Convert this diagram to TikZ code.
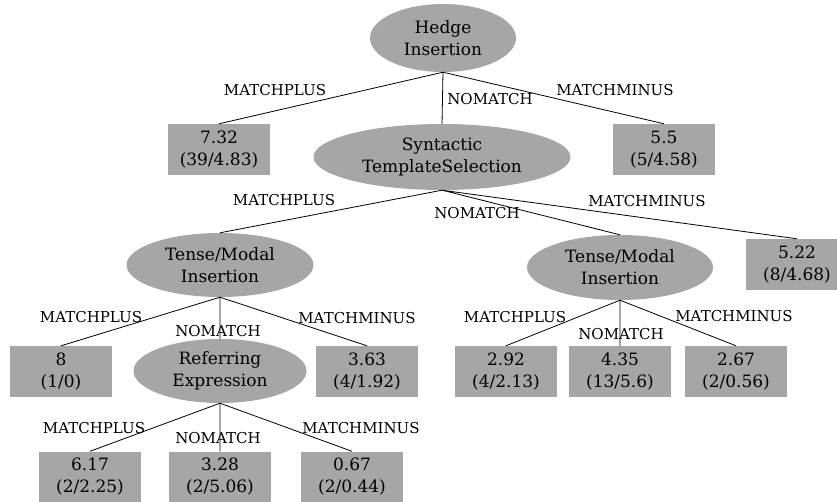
\documentclass[tikz,border=0pt]{standalone}
\usepackage{fontspec}
\setmainfont{DejaVu Serif}
\usetikzlibrary{shapes.geometric}
\definecolor{nodegray}{RGB}{166,166,166}

\begin{document}
\begin{tikzpicture}[x=1pt, y=-1pt,
    test/.style={ellipse, fill=nodegray, inner sep=0pt, align=center,
        font=\fontsize{17}{22}\selectfont},
    leaf/.style={rectangle, fill=nodegray, minimum width=102pt, minimum height=51pt,
        inner sep=0pt, align=center, font=\fontsize{17}{22}\selectfont},
    lbl/.style={inner sep=0pt, font=\fontsize{15}{16}\selectfont},
    branch/.style={line width=0.8pt}]
    \useasboundingbox (0,0) rectangle (837,502);

    % tests
    \node[test, minimum width=146pt, minimum height=68pt] (hedge) at (443,38) {Hedge\\Insertion};
    \node[test, minimum width=257pt, minimum height=66pt] (syn) at (442,157) {Syntactic\\TemplateSelection};
    \node[test, minimum width=187pt, minimum height=64pt] (tmL) at (220,265) {Tense/Modal\\Insertion};
    \node[test, minimum width=186pt, minimum height=65pt] (tmR) at (620,267.5) {Tense/Modal\\Insertion};
    \node[test, minimum width=173pt, minimum height=64pt] (refx) at (220,371) {Referring\\Expression};

    % leaves
    \node[leaf] (hedgePlus) at (219,149.5) {7.32\\(39/4.83)};
    \node[leaf] (hedgeMinus) at (664,149.5) {5.5\\(5/4.58)};
    \node[leaf] (synMinus) at (797,264.5) {5.22\\(8/4.68)};
    \node[leaf] (tmLPlus) at (61,371.5) {8\\(1/0)};
    \node[leaf] (tmLMinus) at (367,371.5) {3.63\\(4/1.92)};
    \node[leaf] (refxPlus) at (90,477) {6.17\\(2/2.25)};
    \node[leaf] (refxNo) at (220,477) {3.28\\(2/5.06)};
    \node[leaf] (refxMinus) at (352,477) {0.67\\(2/0.44)};
    \node[leaf] (tmRPlus) at (506,371.5) {2.92\\(4/2.13)};
    \node[leaf] (tmRNo) at (620,371.5) {4.35\\(13/5.6)};
    \node[leaf] (tmRMinus) at (736,371.5) {2.67\\(2/0.56)};

    % labels
    \node[lbl] (hedgeL1) at (275,90) {MATCHPLUS};
    \node[lbl] (hedgeL2) at (490,99) {NOMATCH};
    \node[lbl] (hedgeL3) at (615,90) {MATCHMINUS};
    \node[lbl] (synL1) at (284,200) {MATCHPLUS};
    \node[lbl] (synL2) at (477,213) {NOMATCH};
    \node[lbl] (synL3) at (647,201) {MATCHMINUS};
    \node[lbl] (tmLL1) at (91,317) {MATCHPLUS};
    \node[lbl] (tmLL2) at (218,331) {NOMATCH};
    \node[lbl] (tmLL3) at (357,318) {MATCHMINUS};
    \node[lbl] (refxL1) at (94,428) {MATCHPLUS};
    \node[lbl] (refxL2) at (218,438) {NOMATCH};
    \node[lbl] (refxL3) at (361,428) {MATCHMINUS};
    \node[lbl] (tmRL1) at (515,317) {MATCHPLUS};
    \node[lbl] (tmRL2) at (621,334) {NOMATCH};
    \node[lbl] (tmRL3) at (734,316) {MATCHMINUS};

    % branches
    \draw[branch]
        (hedge.south) -- (hedgePlus.north)
        (hedge.south) -- (syn.north)
        (hedge.south) -- (hedgeMinus.north)

        (syn.south) -- (tmL.north)
        (syn.south) -- (tmR.north)
        (syn.south) -- (synMinus.north)

        (tmL.south) -- (tmLPlus.north)
        (tmL.south) -- (refx.north)
        (tmL.south) -- (tmLMinus.north)

        (refx.south) -- (refxPlus.north)
        (refx.south) -- (refxNo.north)
        (refx.south) -- (refxMinus.north)

        (tmR.south) -- (tmRPlus.north)
        (tmR.south) -- (tmRNo.north)
        (tmR.south) -- (tmRMinus.north);
\end{tikzpicture}
\end{document}
